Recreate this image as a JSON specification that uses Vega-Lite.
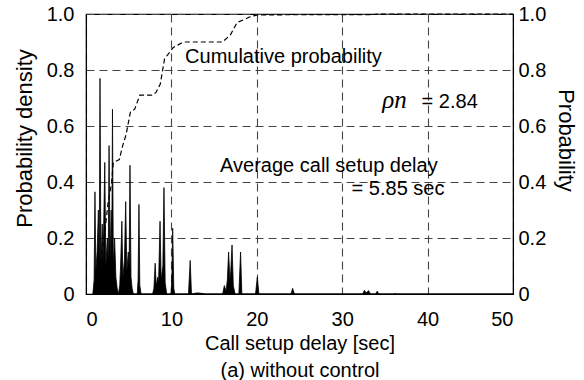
{
  "$schema": "https://vega.github.io/schema/vega-lite/v6.json",
  "autosize": "none",
  "padding": {"left": 86, "top": 14, "right": 71, "bottom": 86},
  "width": 427,
  "height": 280,
  "config": {
    "font": "Liberation Sans",
    "view": {"stroke": "black", "strokeWidth": 1.2},
    "axis": {
      "labelFont": "Liberation Sans", "titleFont": "Liberation Sans",
      "labelColor": "black", "titleColor": "black",
      "labelFontSize": 20, "titleFontSize": 20, "titleFontWeight": "normal",
      "domainColor": "black", "ticks": false,
      "grid": true, "gridColor": "#444", "gridDash": [8, 5], "gridWidth": 1.1
    }
  },
  "datasets": {
    "density": [
      {"x": 0.8, "d": 0}, {"x": 0.95, "d": 0.05}, {"x": 1.05, "d": 0.365}, {"x": 1.15, "d": 0.08},
      {"x": 1.3, "d": 0.15}, {"x": 1.45, "d": 0.3}, {"x": 1.55, "d": 0.12}, {"x": 1.64, "d": 0.77},
      {"x": 1.75, "d": 0.1}, {"x": 1.9, "d": 0.25}, {"x": 2.0, "d": 0.12}, {"x": 2.2, "d": 0.47},
      {"x": 2.32, "d": 0.1}, {"x": 2.5, "d": 0.2}, {"x": 2.6, "d": 0.12}, {"x": 2.7, "d": 0.53},
      {"x": 2.82, "d": 0.12}, {"x": 2.95, "d": 0.3}, {"x": 3.02, "d": 0.15}, {"x": 3.1, "d": 0.66},
      {"x": 3.2, "d": 0.1}, {"x": 3.35, "d": 0.2}, {"x": 3.5, "d": 0.06}, {"x": 3.65, "d": 0.02},
      {"x": 3.8, "d": 0}, {"x": 3.95, "d": 0.03}, {"x": 4.05, "d": 0.1}, {"x": 4.2, "d": 0.26},
      {"x": 4.32, "d": 0.06}, {"x": 4.5, "d": 0.12}, {"x": 4.65, "d": 0.33}, {"x": 4.78, "d": 0.08},
      {"x": 4.95, "d": 0.15}, {"x": 5.05, "d": 0.1}, {"x": 5.15, "d": 0.46}, {"x": 5.27, "d": 0.06},
      {"x": 5.4, "d": 0.02}, {"x": 5.55, "d": 0}, {"x": 6.0, "d": 0}, {"x": 6.1, "d": 0.05},
      {"x": 6.2, "d": 0.32}, {"x": 6.3, "d": 0.03}, {"x": 6.45, "d": 0}, {"x": 7.8, "d": 0},
      {"x": 7.95, "d": 0.02}, {"x": 8.1, "d": 0.11}, {"x": 8.22, "d": 0.03}, {"x": 8.4, "d": 0.06},
      {"x": 8.5, "d": 0.04}, {"x": 8.67, "d": 0.26}, {"x": 8.8, "d": 0.05}, {"x": 9.0, "d": 0.1},
      {"x": 9.13, "d": 0.38}, {"x": 9.27, "d": 0.04}, {"x": 9.45, "d": 0}, {"x": 9.95, "d": 0},
      {"x": 10.05, "d": 0.05}, {"x": 10.15, "d": 0.235}, {"x": 10.28, "d": 0.02}, {"x": 10.4, "d": 0},
      {"x": 12.0, "d": 0}, {"x": 12.2, "d": 0.12}, {"x": 12.35, "d": 0}, {"x": 13.0, "d": 0.004},
      {"x": 13.4, "d": 0.003}, {"x": 14.0, "d": 0}, {"x": 16.0, "d": 0}, {"x": 16.2, "d": 0.03},
      {"x": 16.4, "d": 0.01}, {"x": 16.55, "d": 0.05}, {"x": 16.7, "d": 0.15}, {"x": 16.85, "d": 0.05},
      {"x": 16.95, "d": 0.08}, {"x": 17.1, "d": 0.175}, {"x": 17.25, "d": 0.03}, {"x": 17.45, "d": 0},
      {"x": 17.9, "d": 0}, {"x": 18.1, "d": 0.15}, {"x": 18.25, "d": 0}, {"x": 19.85, "d": 0},
      {"x": 20.06, "d": 0.06}, {"x": 20.25, "d": 0}, {"x": 24.0, "d": 0}, {"x": 24.2, "d": 0.02},
      {"x": 24.4, "d": 0}, {"x": 32.4, "d": 0}, {"x": 32.6, "d": 0.013}, {"x": 32.8, "d": 0.004},
      {"x": 33.1, "d": 0.012}, {"x": 33.3, "d": 0}, {"x": 33.9, "d": 0}, {"x": 34.1, "d": 0.01},
      {"x": 34.3, "d": 0}, {"x": 36.1, "d": 0}, {"x": 36.2, "d": 0.003}, {"x": 36.3, "d": 0},
      {"x": 50, "d": 0}
    ],
    "cumulative": [
      {"x": 0.9, "p": 0}, {"x": 1.1, "p": 0.04}, {"x": 1.7, "p": 0.12}, {"x": 2.2, "p": 0.22},
      {"x": 2.6, "p": 0.33}, {"x": 2.8, "p": 0.36}, {"x": 3.0, "p": 0.4}, {"x": 3.2, "p": 0.47},
      {"x": 3.9, "p": 0.48}, {"x": 4.3, "p": 0.53}, {"x": 4.7, "p": 0.57}, {"x": 5.2, "p": 0.65},
      {"x": 5.7, "p": 0.66}, {"x": 6.3, "p": 0.71}, {"x": 7.7, "p": 0.71}, {"x": 8.2, "p": 0.72},
      {"x": 8.7, "p": 0.75}, {"x": 9.2, "p": 0.84}, {"x": 10.2, "p": 0.88}, {"x": 11.4, "p": 0.9},
      {"x": 16.0, "p": 0.9}, {"x": 16.9, "p": 0.925}, {"x": 17.7, "p": 0.97}, {"x": 18.5, "p": 0.98},
      {"x": 19.2, "p": 0.99}, {"x": 20.1, "p": 0.997}, {"x": 33.5, "p": 0.998}, {"x": 34.5, "p": 1.0},
      {"x": 50, "p": 1.0}
    ],
    "notes": [
      {"x": 11.6, "y": 0.825, "text": "Cumulative probability"},
      {"x": 15.7, "y": 0.436, "text": "Average call setup delay"},
      {"x": 31.1, "y": 0.354, "text": "= 5.85 sec"},
      {"x": 39.3, "y": 0.664, "text": "= 2.84"}
    ],
    "math": [
      {"x": 34.7, "y": 0.664, "text": "ρn"}
    ]
  },
  "layer": [
    {
      "data": {"name": "density"},
      "mark": {"type": "area", "color": "black", "stroke": "black", "strokeWidth": 0.8, "interpolate": "linear"},
      "encoding": {
        "x": {"field": "x", "type": "quantitative",
              "scale": {"domain": [0, 50], "nice": false},
              "axis": {"values": [0, 10, 20, 30, 40, 50], "labelPadding": 15,
                       "title": ["Call setup delay [sec]", "(a) without control"],
                       "titleLineHeight": 27, "titlePadding": 4}},
        "y": {"field": "d", "type": "quantitative",
              "scale": {"domain": [0, 1], "nice": false},
              "axis": {"values": [0, 0.2, 0.4, 0.6, 0.8, 1.0],
                       "labelExpr": "datum.value == 0 ? '0' : format(datum.value, '.1f')",
                       "labelPadding": 12, "title": "Probability density",
                       "titleFontSize": 22, "titlePadding": 10, "titleY": 124}}
      }
    },
    {
      "data": {"name": "cumulative"},
      "mark": {"type": "line", "color": "black", "strokeWidth": 1.2, "strokeDash": [5, 3]},
      "encoding": {
        "x": {"field": "x", "type": "quantitative"},
        "y": {"field": "p", "type": "quantitative",
              "scale": {"domain": [0, 1], "nice": false},
              "axis": {"orient": "right", "grid": false,
                       "values": [0, 0.2, 0.4, 0.6, 0.8, 1.0],
                       "labelExpr": "datum.value == 0 ? '0' : format(datum.value, '.1f')",
                       "labelPadding": 5, "title": "Probability",
                       "titleFontSize": 22, "titlePadding": 8, "titleY": 126}}
      }
    },
    {
      "data": {"name": "notes"},
      "mark": {"type": "text", "align": "left", "baseline": "alphabetic", "fontSize": 20, "font": "Liberation Sans", "color": "black"},
      "encoding": {
        "x": {"field": "x", "type": "quantitative"},
        "y": {"field": "y", "type": "quantitative", "scale": {"domain": [0, 1], "nice": false}, "axis": null},
        "text": {"field": "text"}
      }
    },
    {
      "data": {"name": "math"},
      "mark": {"type": "text", "align": "left", "baseline": "alphabetic", "fontSize": 25, "font": "Liberation Serif", "fontStyle": "italic", "color": "black"},
      "encoding": {
        "x": {"field": "x", "type": "quantitative"},
        "y": {"field": "y", "type": "quantitative", "scale": {"domain": [0, 1], "nice": false}, "axis": null},
        "text": {"field": "text"}
      }
    }
  ],
  "resolve": {"scale": {"y": "independent"}}
}
